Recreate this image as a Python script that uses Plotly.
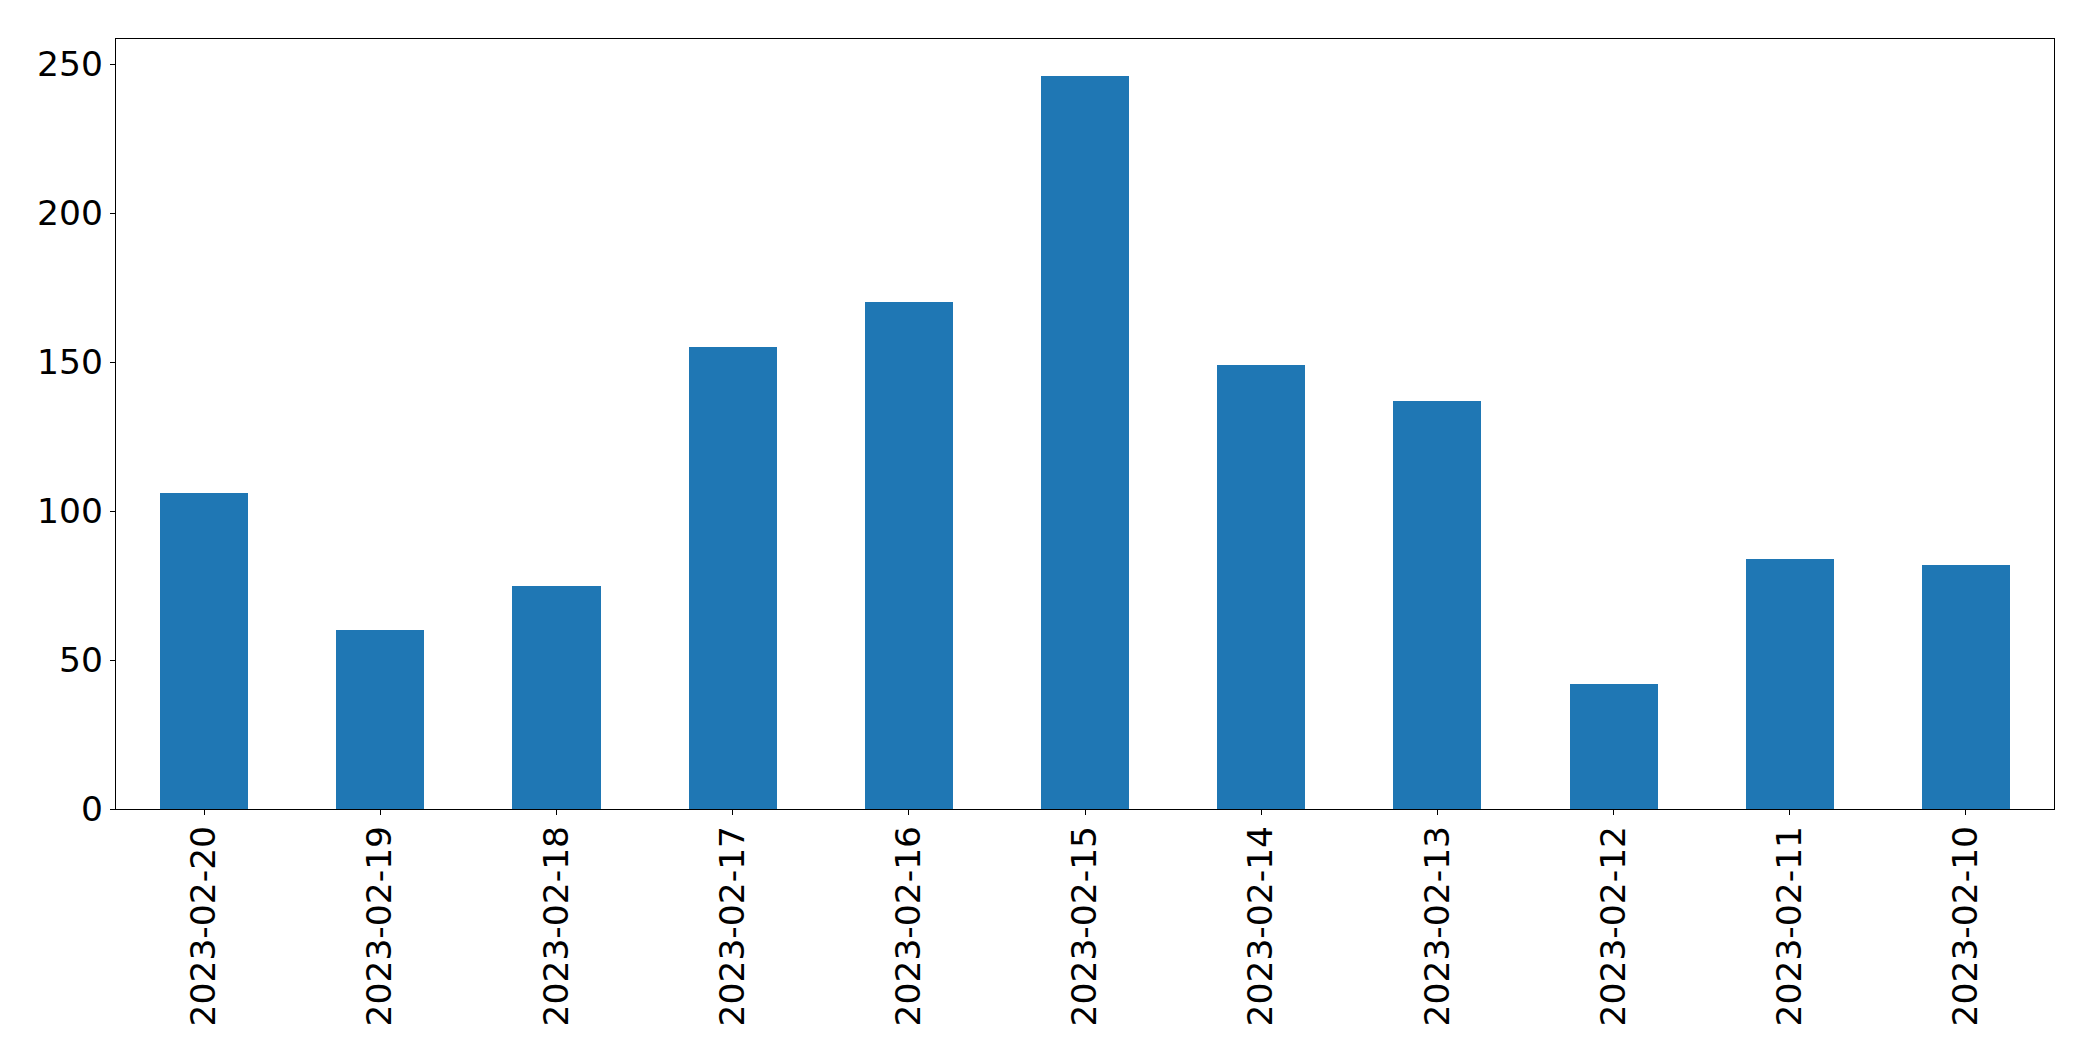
import plotly.graph_objects as go

dates = ["2023-02-20", "2023-02-19", "2023-02-18", "2023-02-17", "2023-02-16", "2023-02-15",
         "2023-02-14", "2023-02-13", "2023-02-12", "2023-02-11", "2023-02-10"]
counts = [106, 60, 75, 155, 170, 246, 149, 137, 42, 84, 82]
y_ticks = [0, 50, 100, 150, 200, 250]

fig = go.Figure(go.Bar(x=dates, y=counts, marker=dict(color="#1f77b4", line=dict(width=0)), width=0.5))

fig.update_layout(
    width=2077, height=1045,
    margin=dict(l=108, r=31, t=31, b=244),
    paper_bgcolor="white", plot_bgcolor="white",
    font=dict(family="DejaVu Sans", size=34.5, color="black"),
    showlegend=False, bargap=0,
)
fig.update_xaxes(type="category", range=[-0.5, 10.5], tickangle=-90,
                 showline=True, linecolor="black", linewidth=1.3, mirror=True,
                 ticks="outside", ticklen=5, tickcolor="black", showgrid=False,
                 ticklabelstandoff=-3)
fig.update_yaxes(range=[0, 258.4], tickvals=y_ticks,
                 showline=True, linecolor="black", linewidth=1.3, mirror=True,
                 ticks="outside", ticklen=5, tickcolor="black", showgrid=False, zeroline=False)

fig.write_html("out.html")
